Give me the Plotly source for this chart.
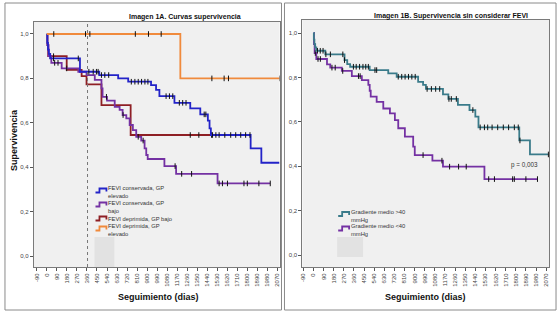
import numpy as np
import plotly.graph_objects as go

W, H = 560, 313

# ---------------- shared axis labels ----------------
x_ticks = list(range(-90, 2071, 90))
x_ticktext = [str(v) for v in x_ticks]
y_ticks = [0.0, 0.2, 0.4, 0.6, 0.8, 1.0]
y_ticktext = ["0,0", "0,2", "0,4", "0,6", "0,8", "1,0"]

# ---------------- Imagen 1A ----------------
a_names = ["FEVI conservada, GP elevado", "FEVI conservada, GP bajo",
           "FEVI deprimida, GP bajo", "FEVI deprimida, GP elevado"]
a_legend = ["FEVI conservada, GP<br>elevado", "FEVI conservada, GP<br>bajo",
            "FEVI deprimida, GP bajo", "FEVI deprimida, GP<br>elevado"]

blue_t = [0, 4, 10, 18, 30, 297, 470, 640, 730, 935, 980, 1010, 1145, 1287, 1377, 1445, 1460, 1472, 1829, 1925, 2088]
blue_s = [1.0, 0.96, 0.93, 0.91, 0.89, 0.83, 0.815, 0.80, 0.785, 0.77, 0.748, 0.72, 0.69, 0.665, 0.638, 0.61, 0.575, 0.545, 0.485, 0.42, 0.42]
blue_c = [60, 282, 377, 416, 445, 460, 490, 520, 555, 758, 790, 820, 850, 880, 907,
          1070, 1100, 1130, 1189, 1219, 1249, 1412, 1427, 1487, 1517, 1546, 1597, 1650, 1695, 1740, 1784, 1823]

purple_t = [0, 5, 15, 40, 133, 282, 356, 430, 490, 500, 540, 609, 653, 680, 713, 743, 772, 802, 847, 877, 892, 905, 1055, 1160, 1532, 2005]
purple_s = [1.0, 0.95, 0.90, 0.87, 0.845, 0.83, 0.815, 0.793, 0.755, 0.717, 0.70, 0.672, 0.658, 0.635, 0.62, 0.59, 0.567, 0.537, 0.52, 0.485, 0.455, 0.437, 0.405, 0.37, 0.327, 0.327]
purple_c = [70, 100, 178, 535, 684, 820, 864, 1151, 1210, 1299, 1546, 1576, 1621, 1769, 1799, 1903, 2005]

red_t = [0, 5, 12, 178, 312, 356, 490, 752, 1478]
red_s = [1.0, 0.95, 0.90, 0.838, 0.81, 0.773, 0.68, 0.545, 0.545]
red_c = [30, 60, 1287, 1364, 1478]

orange_t = [0, 1198, 2090]
orange_s = [1.0, 0.80, 0.80]
orange_c = [62, 347, 386, 794, 912, 1026, 1481, 1591, 1630, 2090]

# ---------------- Imagen 1B ----------------
b_names = ["Gradiente medio >40 mmHg", "Gradiente medio <40 mmHg"]
b_legend = ["Gradiente medio >40<br>mmHg", "Gradiente medio <40<br>mmHg"]

teal_t = [0, 3, 8, 15, 25, 105, 276, 300, 326, 500, 665, 740, 931, 975, 1000, 1152, 1200, 1285, 1388, 1440, 1468, 1831, 1926, 2090]
teal_s = [1.0, 0.97, 0.95, 0.935, 0.92, 0.904, 0.878, 0.86, 0.848, 0.833, 0.818, 0.803, 0.78, 0.766, 0.748, 0.724, 0.703, 0.676, 0.653, 0.623, 0.575, 0.516, 0.453, 0.453]
teal_c = [35, 60, 85, 110, 150, 261, 276, 355, 380, 410, 440, 465, 488, 547, 562, 754, 785, 815, 845, 875, 905,
          1011, 1049, 1087, 1123, 1205, 1226, 1271, 1418, 1483, 1521, 1550, 1589, 1639, 1689, 1736, 1787, 1822, 1837, 2090]

violet_t = [0, 4, 10, 25, 120, 149, 252, 341, 430, 488, 500, 509, 562, 621, 680, 724, 754, 813, 887, 901, 1058, 1152, 1521, 1993]
violet_s = [1.0, 0.95, 0.91, 0.883, 0.859, 0.844, 0.829, 0.806, 0.788, 0.766, 0.74, 0.713, 0.69, 0.66, 0.638, 0.608, 0.571, 0.533, 0.488, 0.45, 0.425, 0.398, 0.342, 0.342]
violet_c = [16, 40, 61, 164, 193, 260, 400, 415, 975, 1143, 1211, 1291, 1359, 1559, 1610, 1772, 1787, 1890, 1993]

p_text = "p = 0,003"
cut_day = 365

# ---------------- styling ----------------
FONT = "Liberation Sans, Arial, sans-serif"
C_BLUE = "#2323C8"
C_PURPLE = "#7431A3"
C_RED = "#8E1F24"
C_ORANGE = "#F08A3C"
C_TEAL = "#3A7B8A"
C_VIOLET = "#7431A3"


def px(x):
    return x / W


def py(y):
    return 1 - y / H


def censor_y(t, s, c):
    t = np.asarray(t, float)
    s = np.asarray(s, float)
    idx = np.searchsorted(t, np.asarray(c, float), side="right") - 1
    return s[idx]


fig = go.Figure()


def add_series(t, s, c, color, name, xa, ya):
    fig.add_trace(go.Scatter(x=t, y=s, mode="lines", line=dict(color=color, width=1.8, shape="hv"),
                             name=name, showlegend=False, xaxis=xa, yaxis=ya, hoverinfo="skip"))
    fig.add_trace(go.Scatter(x=c, y=censor_y(t, s, c), mode="markers",
                             marker=dict(symbol="line-ns", size=4, line=dict(color="#111", width=1)),
                             showlegend=False, xaxis=xa, yaxis=ya, hoverinfo="skip"))


add_series(red_t, red_s, red_c, C_RED, a_names[2], "x", "y")
add_series(purple_t, purple_s, purple_c, C_PURPLE, a_names[1], "x", "y")
add_series(blue_t, blue_s, blue_c, C_BLUE, a_names[0], "x", "y")
add_series(orange_t, orange_s, orange_c, C_ORANGE, a_names[3], "x", "y")

add_series(violet_t, violet_s, violet_c, C_VIOLET, b_names[1], "x2", "y2")
add_series(teal_t, teal_s, teal_c, C_TEAL, b_names[0], "x2", "y2")

axis_common = dict(showgrid=False, zeroline=False, showline=True, mirror=True,
                   linecolor="#7a7a7a", linewidth=1, ticks="outside", ticklen=3,
                   tickcolor="#555", tickwidth=1, tickfont=dict(family=FONT, size=6, color="#444"))

xa = dict(axis_common, tickvals=x_ticks, ticktext=x_ticktext, tickangle=-90)
ya = dict(axis_common, tickvals=y_ticks, ticktext=y_ticktext)

fig.update_layout(
    width=W, height=H, margin=dict(l=0, r=0, t=0, b=0),
    paper_bgcolor="white", plot_bgcolor="#F0F0F0",
    font=dict(family=FONT, color="#222"),
    xaxis=dict(xa, domain=[px(32), px(279)], range=[-117, 2088], anchor="y"),
    yaxis=dict(ya, domain=[py(267), py(22)], range=[-0.0495, 1.054], anchor="x"),
    xaxis2=dict(xa, domain=[px(302), px(550)], range=[-99, 2096], anchor="y2"),
    yaxis2=dict(ya, domain=[py(267), py(20)], range=[-0.054, 1.0586], anchor="x2"),
)

shapes = []
# outer panel frames
shapes.append(dict(type="rect", xref="paper", yref="paper", x0=px(3), x1=px(281), y0=py(310), y1=py(3),
                   line=dict(color="#8a8a8a", width=1), layer="below"))
shapes.append(dict(type="rect", xref="paper", yref="paper", x0=px(284), x1=px(557), y0=py(310), y1=py(3),
                   line=dict(color="#8a8a8a", width=1), layer="below"))
# dotted cut-off line
shapes.append(dict(type="line", xref="x", yref="y domain", x0=cut_day, x1=cut_day, y0=0, y1=1,
                   line=dict(color="#777", width=1, dash="dot")))
# grey legend remnants
shapes.append(dict(type="rect", xref="paper", yref="paper", x0=px(93), x1=px(113), y0=py(267), y1=py(237),
                   fillcolor="#E2E2E2", line=dict(width=0)))
shapes.append(dict(type="rect", xref="paper", yref="paper", x0=px(337), x1=px(363), y0=py(257), y1=py(237),
                   fillcolor="#E2E2E2", line=dict(width=0)))


def step_symbol(x0, yc, color):
    pts = [(x0, yc + 2), (x0 + 4, yc + 2), (x0 + 4, yc - 2), (x0 + 11, yc - 2), (x0 + 11, yc + 1)]
    path = "M " + " L ".join(f"{px(a):.5f},{py(b):.5f}" for a, b in pts)
    return dict(type="path", xref="paper", yref="paper", path=path, line=dict(color=color, width=1.8))


for yc, col in [(190.5, C_BLUE), (204.5, C_PURPLE), (218.5, C_RED), (228.5, C_ORANGE)]:
    shapes.append(step_symbol(94, yc, col))
for yc, col in [(214, C_TEAL), (228.5, C_VIOLET)]:
    shapes.append(step_symbol(338, yc, col))
fig.update_layout(shapes=shapes)

ann = []


def text(x, y, s, size=6.5, bold=False, xanchor="left", color="#333", angle=0, yanchor="middle"):
    ann.append(dict(x=px(x), y=py(y), xref="paper", yref="paper", text=f"<b>{s}</b>" if bold else s,
                    showarrow=False, xanchor=xanchor, yanchor=yanchor, textangle=angle, align="left",
                    borderpad=0, font=dict(family=FONT, size=size, color=color)))


text(184, 17, "Imagen 1A. Curvas supervivencia", size=7, bold=True, xanchor="center", color="#111")
text(451, 16, "Imagen 1B. Supervivencia sin considerar FEVI", size=7, bold=True, xanchor="center", color="#111")
text(157, 296.5, "Seguimiento (dias)", size=9, bold=True, xanchor="center", color="#111")
text(426, 296.5, "Seguimiento (dias)", size=9, bold=True, xanchor="center", color="#111")
text(12, 140, "Supervivencia", size=9, bold=True, xanchor="center", color="#111", angle=-90)

# legend 1A (each entry a single text block)
for s, y in zip(a_legend, [184, 198.5, 214.5, 222]):
    text(106, y, s, size=5.8, yanchor="top")
# legend 1B
for s, y in zip(b_legend, [208, 222], ):
    text(350, y, s, size=5.8, yanchor="top")

text(525, 165, p_text, size=6.3, xanchor="center")

fig.update_layout(annotations=ann)

fig.write_html("out.html", config={"displayModeBar": False},
               post_script="document.body.style.margin='0';")
